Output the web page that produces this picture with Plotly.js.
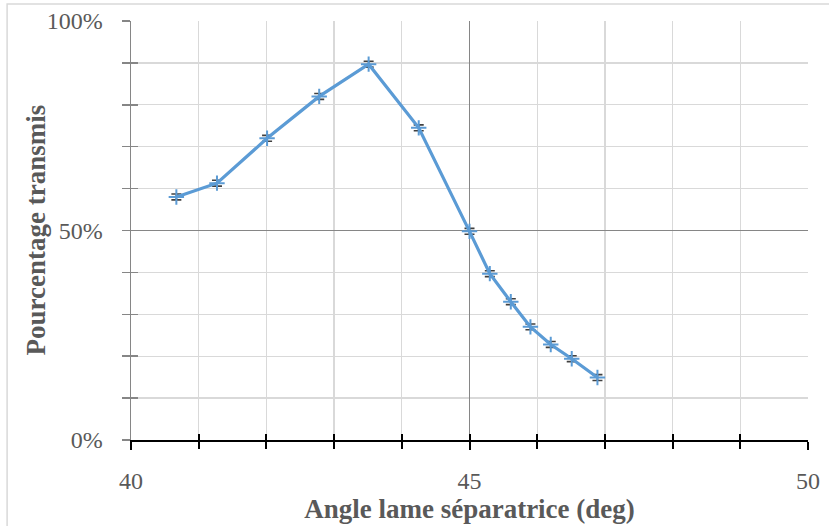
<!DOCTYPE html>
<html>
<head>
<meta charset="utf-8">
<script src="https://cdn.plot.ly/plotly-3.0.1.min.js"></script>
<style>html,body{margin:0;padding:0;background:#fff;}#chart{width:829px;height:526px;}</style>
</head>
<body>
<div id="chart"></div>
<script>
const angles = [40.67, 41.27, 42.01, 42.78, 43.51, 44.25, 45.0, 45.30, 45.61, 45.90, 46.20, 46.51, 46.89];
const transmis = [0.580, 0.613, 0.720, 0.820, 0.897, 0.745, 0.498, 0.397, 0.330, 0.270, 0.228, 0.194, 0.149];
const errorTransmis = 0.007;
const xTitle = 'Angle lame séparatrice (deg)';
const yTitle = 'Pourcentage transmis';

const FONT = 'Liberation Serif, Times New Roman, serif';
const TXT = '#595959';

const traces = [
  {
    x: angles, y: transmis, type: 'scatter', mode: 'lines+markers',
    line: {color: '#5b9bd5', width: 3.2},
    marker: {symbol: 'cross-thin', size: 11, color: '#5b9bd5', line: {color: '#5b9bd5', width: 2}},
    error_y: {type: 'constant', value: errorTransmis, color: '#404040', thickness: 1.6, width: 5},
    hoverinfo: 'x+y'
  },
  {
    x: [angles[0]], y: [transmis[0]], xaxis: 'x2', yaxis: 'y2', type: 'scatter', mode: 'markers',
    marker: {opacity: 0}, hoverinfo: 'skip', showlegend: false
  }
];

const layout = {
  width: 829, height: 526,
  margin: {l: 131, r: 21, t: 21, b: 86},
  paper_bgcolor: '#ffffff', plot_bgcolor: '#ffffff',
  showlegend: false,
  font: {family: FONT, color: TXT, size: 24},
  xaxis: {
    range: [40, 50], dtick: 5, tick0: 40,
    showgrid: true, gridcolor: '#868686', gridwidth: 1.3,
    zeroline: false,
    showline: true, linecolor: '#000000', linewidth: 2,
    ticks: 'outside', ticklen: 8, tickwidth: 2, tickcolor: '#000000',
    minor: {dtick: 1, ticks: 'outside', ticklen: 7, tickwidth: 2, tickcolor: '#000000', showgrid: true, gridcolor: '#d9d9d9', gridwidth: 1.3},
    tickfont: {family: FONT, size: 24, color: TXT},
    ticklabelstandoff: 10,
    title: {text: xTitle, font: {family: FONT, size: 27, color: TXT, weight: 'bold'}, standoff: 4},
    fixedrange: true
  },
  xaxis2: {
    range: [40, 50], overlaying: 'x', anchor: 'y', side: 'bottom', dtick: 5, tick0: 40,
    showgrid: false, zeroline: false, showline: false, showticklabels: false,
    ticks: 'inside', ticklen: 6, tickwidth: 2, tickcolor: '#000000',
    minor: {dtick: 1, ticks: 'inside', ticklen: 6, tickwidth: 2, tickcolor: '#000000', showgrid: false},
    fixedrange: true
  },
  yaxis: {
    range: [0, 1], dtick: 0.5, tick0: 0, tickformat: '.0%',
    showgrid: true, gridcolor: '#868686', gridwidth: 1.3,
    zeroline: false,
    showline: true, linecolor: '#868686', linewidth: 1.5,
    ticks: 'outside', ticklen: 8, tickwidth: 1.5, tickcolor: '#868686',
    minor: {dtick: 0.1, ticks: 'outside', ticklen: 8, tickwidth: 1.5, tickcolor: '#868686', showgrid: true, gridcolor: '#d9d9d9', gridwidth: 1.3},
    tickfont: {family: FONT, size: 24, color: TXT},
    ticklabelstandoff: 14,
    fixedrange: true
  },
  yaxis2: {
    range: [0, 1], overlaying: 'y', anchor: 'x', side: 'left', dtick: 0.5, tick0: 0,
    showgrid: false, zeroline: false, showline: false, showticklabels: false,
    ticks: 'inside', ticklen: 7, tickwidth: 1.5, tickcolor: '#868686',
    minor: {dtick: 0.1, ticks: 'inside', ticklen: 7, tickwidth: 1.5, tickcolor: '#868686', showgrid: false},
    fixedrange: true
  },
  annotations: [
    {text: yTitle, xref: 'paper', yref: 'paper', x: -0.1418, y: 0.5, xanchor: 'center', yanchor: 'middle',
     textangle: -90, showarrow: false, font: {family: FONT, size: 27, color: TXT, weight: 'bold'}}
  ],
  shapes: [
    {type: 'rect', xref: 'paper', yref: 'paper', x0: -0.183, x1: 1.2, y0: -0.4, y1: 1.0406,
     line: {color: '#d9d9d9', width: 1.5}, fillcolor: 'rgba(0,0,0,0)', layer: 'below'}
  ]
};

Plotly.newPlot('chart', traces, layout, {displayModeBar: false, staticPlot: true});
</script>
</body>
</html>
